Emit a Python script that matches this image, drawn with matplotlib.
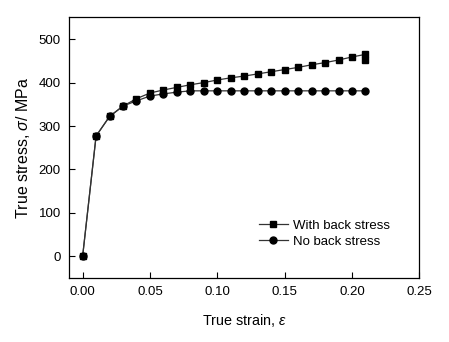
import numpy as np
import matplotlib.pyplot as plt

plt.rcParams['font.family'] = ['Liberation Sans', 'DejaVu Sans']
plt.rcParams['mathtext.fontset'] = 'custom'
plt.rcParams['mathtext.it'] = 'Liberation Sans:italic'

# strain points (the back-stress run ends with a second value at 0.21)
strain = [0.00, 0.01, 0.02, 0.03, 0.04, 0.05, 0.06, 0.07, 0.08, 0.09, 0.10,
          0.11, 0.12, 0.13, 0.14, 0.15, 0.16, 0.17, 0.18, 0.19, 0.20, 0.21]
strain_back = strain + [0.21]
stress_back = [0, 277, 322, 346, 363, 376, 383, 389, 395, 400, 406,
               411, 415, 420, 425, 430, 435, 441, 446, 452, 459, 465, 452]
stress_noback = [0, 277, 322, 346, 358, 369, 374, 378, 381, 381, 381,
                 381, 381, 381, 381, 381, 381, 381, 381, 381, 381, 381]

xticks = [0.00, 0.05, 0.10, 0.15, 0.20, 0.25]
yticks = [0, 100, 200, 300, 400, 500]

fig = plt.figure(figsize=(4.49, 3.42), dpi=100)
ax = fig.add_axes([0.154, 0.187, 0.780, 0.762])

ax.plot(strain_back, stress_back, '-', color='#333333', lw=0.9,
        marker='s', ms=5, mfc='black', mec='black', label='With back stress')
ax.plot(strain, stress_noback, '-', color='#333333', lw=0.9,
        marker='o', ms=5, mfc='black', mec='black', label='No back stress')

ax.set_xlim(-0.01, 0.25)
ax.set_ylim(-50, 550)
ax.set_xticks(xticks)
ax.set_xticklabels(['%.2f' % v for v in xticks])
ax.set_yticks(yticks)
ax.tick_params(direction='in', length=4, width=0.8, labelsize=9.5, pad=6)
for s in ax.spines.values():
    s.set_linewidth(0.9)

ax.set_xlabel(r'True strain, $\mathit{\varepsilon}$', fontsize=10.4, labelpad=10)
ax.set_ylabel(r'True stress, $\mathit{\sigma}$/ MPa', fontsize=11.5, labelpad=5)

ax.legend(loc='lower left', bbox_to_anchor=(0.515, 0.08), frameon=False,
          fontsize=9.5, handlelength=2.2, handletextpad=0.4, labelspacing=0.3,
          borderpad=0.2)

fig.savefig('out.png', dpi=100)
